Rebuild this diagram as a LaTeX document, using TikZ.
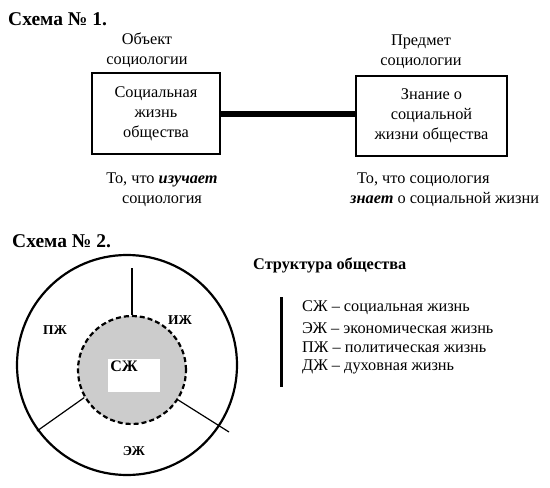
\documentclass[tikz,border=0pt]{standalone}
\usepackage{fontspec}
\setmainfont{Liberation Serif}
\begin{document}
\begin{tikzpicture}[x=1pt,y=-1pt,
  txt/.style={inner sep=0pt,font=\fontsize{16.3}{20}\selectfont},
  title/.style={inner sep=0pt,anchor=west,font=\fontsize{19.5}{21}\selectfont\bfseries},
  box/.style={draw,line width=1.2pt,inner sep=0pt,align=center,font=\fontsize{16.3}{20}\selectfont},
  lab/.style={inner sep=0pt,font=\fontsize{13.5}{14}\selectfont\bfseries}]
\useasboundingbox (0,0) rectangle (550,488);
% Schema 1
\node[title] (t1) at (8,19) {Схема № 1.};
\node[box,minimum width=128pt,minimum height=81pt] (b1) at (156,113.5) {Социальная\\жизнь\\общества};
\node[box,minimum width=151pt,minimum height=80pt] (b2) at (431.5,116) {Знание о\\социальной\\жизни общества};
\draw[line width=6pt] (b1.east) -- (b1.east -| b2.west);
\node[txt,align=center] (o1) at (147,50) {Объект\\социологии};
\node[txt,align=center] (p1) at (421,52) {Предмет\\социологии};
\node[txt,align=center] (u1) at (162,190) {То, что \textbf{\textit{изучает}}\\социология};
\node[txt,align=left,anchor=west] (u2) at (350,190) {\hspace*{7pt}То, что социология\\\textbf{\textit{знает}} о социальной жизни};
% Schema 2
\node[title] (t2) at (12,241) {Схема № 2.};
\node[draw,circle,line width=2.2pt,minimum size=220pt,inner sep=0pt] (outer) at (127,365) {};
\node[draw,circle,dashed,dash pattern=on 5pt off 3pt,line width=2.2pt,fill=gray!40,minimum size=108pt,inner sep=0pt] (inner) at (132,370) {};
\node[fill=white,minimum width=52pt,minimum height=33pt,inner sep=0pt] (core) at (134,375) {};
\node[lab,font=\fontsize{16}{17}\selectfont\bfseries] (sz) at (124,366) {СЖ};
\coordinate (tp) at (133,268);
\coordinate (ll) at (37,431);
\coordinate (lr) at (229,432);
\draw[line width=1.2pt] (inner.north) -- (inner.north |- tp);
\draw[line width=1.2pt] (inner.210) -- (ll);
\draw[line width=1.2pt] (inner.-33) -- (lr);
\node[lab] (pz) at (55,330) {ПЖ};
\node[lab] (iz) at (180,320) {ИЖ};
\node[lab] (ez) at (134,451) {ЭЖ};
% legend
\node[title,font=\fontsize{16.3}{18}\selectfont\bfseries] (st) at (253,265) {Структура общества};
\coordinate (bar1) at (281,297);
\coordinate (bar2) at (281,387);
\draw[line width=3pt] (bar1) -- (bar2);
\node[txt,anchor=west] (l1) at (302,308) {СЖ – социальная жизнь};
\node[txt,anchor=west] (l2) at (302,328) {ЭЖ – экономическая жизнь};
\node[txt,anchor=west] (l3) at (302,347) {ПЖ – политическая жизнь};
\node[txt,anchor=west] (l4) at (302,367) {ДЖ – духовная жизнь};
\end{tikzpicture}
\end{document}
